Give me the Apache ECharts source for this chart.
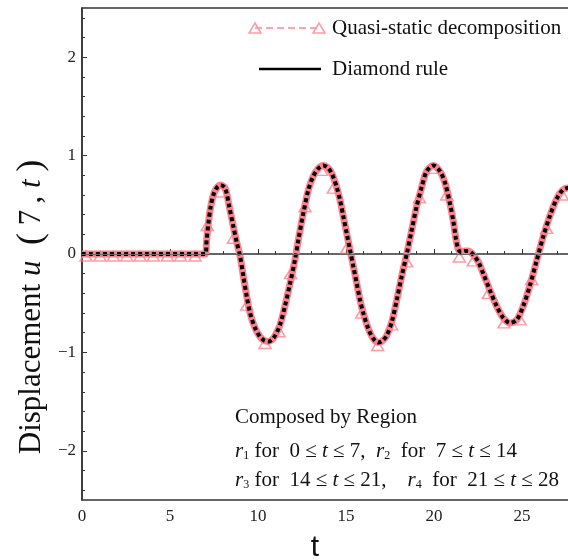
<!DOCTYPE html>
<html>
<head>
<meta charset="utf-8">
<script src="https://cdn.jsdelivr.net/npm/echarts@6/dist/echarts.min.js"></script>
<style>
  html, body { margin: 0; padding: 0; background: #fff; }
  #chart { width: 568px; height: 560px; }
</style>
</head>
<body>
<div id="chart"></div>
<script>
// Diamond rule curve u(7,t)
var tCurve = [0, 3.5, 6.5, 7.0, 7.08, 7.18, 7.31, 7.5, 7.69, 7.88, 8.13, 8.37, 8.6, 8.79, 8.98,
  9.17, 9.36, 9.55, 9.83, 10.11, 10.35, 10.59, 10.8, 10.97, 11.25, 11.53, 11.82, 12.1, 12.29,
  12.57, 12.86, 13.14, 13.43, 13.71, 13.95, 14.19, 14.47, 14.66, 14.85, 15.04, 15.23, 15.42,
  15.61, 15.8, 15.98, 16.27, 16.55, 16.84, 17.08, 17.31, 17.6, 17.88, 18.16, 18.45, 18.73,
  19.01, 19.3, 19.58, 19.96, 20.34, 20.63, 20.91, 21.1, 21.25, 21.38, 21.55, 21.76, 21.95,
  22.14, 22.33, 22.52, 22.8, 23.18, 23.56, 23.94, 24.32, 24.7, 25.07, 25.45, 25.83, 26.21,
  26.59, 26.97, 27.31, 27.6, 28]
var uCurve = [0, 0, 0, 0, 0.14, 0.31, 0.48, 0.62, 0.68, 0.70, 0.67, 0.48, 0.28, 0.12, -0.02,
  -0.23, -0.43, -0.60, -0.75, -0.84, -0.88, -0.89, -0.87, -0.83, -0.72, -0.53, -0.30, -0.06, 0.14,
  0.41, 0.65, 0.79, 0.87, 0.90, 0.88, 0.82, 0.68, 0.55, 0.38, 0.21, 0.04, -0.13,
  -0.30, -0.47, -0.60, -0.76, -0.86, -0.90, -0.88, -0.83, -0.69, -0.47, -0.23, 0.0, 0.24,
  0.48, 0.68, 0.84, 0.90, 0.84, 0.72, 0.51, 0.33, 0.15, 0.05, 0.02, 0.03, 0.03,
  0.01, -0.03, -0.08, -0.20, -0.37, -0.53, -0.65, -0.70, -0.67, -0.53, -0.32, -0.07, 0.18,
  0.39, 0.56, 0.65, 0.67, 0.63]

// quasi-static decomposition samples (triangles)
var tMarks = [0.23, 1.02, 1.78, 2.54, 3.3, 4.05, 4.85, 5.6, 6.42, 7.12, 7.88, 8.6, 9.36, 10.4,
  11.2, 11.85, 12.67, 13.62, 14.28, 15.04, 15.89, 16.8, 17.6, 18.45, 19.17, 19.96, 20.72, 21.44,
  22.23, 23.09, 23.98, 24.89, 25.55, 26.4, 27.3]
var uMarks = [-0.02, -0.02, -0.02, -0.02, -0.02, -0.02, -0.02, -0.02, -0.02, 0.29, 0.63, 0.16,
  -0.52, -0.91, -0.79, -0.20, 0.48, 0.85, 0.67, 0.06, -0.60, -0.93, -0.72, -0.08, 0.57, 0.87,
  0.60, -0.03, -0.07, -0.40, -0.70, -0.67, -0.26, 0.26, 0.60]

var xLabels = [0, 5, 10, 15, 20, 25]
var yLabels = [-2, -1, 0, 1, 2]

var serif = "'Liberation Serif', 'Times New Roman', serif"
var pink = '#ff7f8b'

var curveData = tCurve.map(function (t, i) { return [t, uCurve[i]] })
var markData = tMarks.map(function (t, i) { return [t, uMarks[i]] })

var chart = echarts.init(document.getElementById('chart'))

var subRich = {
  i: { fontFamily: serif, fontSize: 21, fontStyle: 'italic', fill: '#111' },
  s: { fontFamily: serif, fontSize: 12, fill: '#111', padding: [10, 0, 0, 0] }
}

var option = {
  animation: false,
  backgroundColor: '#fff',
  grid: [
    // main plot box, runs past the right edge like the cropped original
    { left: 82, top: 8, width: 528, height: 492, outerBoundsMode: 'none', show: true, borderColor: '#333', borderWidth: 1.5, backgroundColor: 'transparent' },
    // y major ticks
    { left: 82, top: 57.2, width: 528, height: 393.6, outerBoundsMode: 'none' },
    // y minor ticks
    { left: 82, top: 17.84, width: 528, height: 472.32, outerBoundsMode: 'none' }
  ],
  xAxis: [
    {
      gridIndex: 0,
      type: 'value',
      min: 0,
      max: 30,
      interval: 5,
      name: 't',
      nameLocation: 'middle',
      nameGap: 33,
      nameTextStyle: {
        fontFamily: "'Liberation Sans', Arial, sans-serif",
        fontSize: 30,
        color: '#111',
        padding: [0, 62, 0, 0]
      },
      axisLine: { lineStyle: { color: '#333', width: 1.5 } },
      axisTick: { inside: true, length: 5, lineStyle: { color: '#333' } },
      minorTick: { show: true, splitNumber: 5, length: 3, lineStyle: { color: '#333' } },
      splitLine: { show: false },
      axisLabel: {
        margin: 8,
        fontFamily: serif,
        fontSize: 17,
        color: '#222',
        formatter: function (v) {
          return xLabels.indexOf(v) >= 0 ? String(v) : ''
        }
      }
    },
    { gridIndex: 1, type: 'value', min: 0, max: 30, show: false },
    { gridIndex: 2, type: 'value', min: 0, max: 30, show: false }
  ],
  yAxis: [
    {
      gridIndex: 0,
      type: 'value',
      min: -2.5,
      max: 2.5,
      name: 'Displacement {i|u}\u2002{p|(} 7\u2009, {i|t} {p|)}',
      nameLocation: 'middle',
      nameGap: 32,
      nameTextStyle: {
        fontFamily: serif,
        fontSize: 31,
        color: '#111',
        padding: [0, 106, 0, 0],
        rich: {
          i: { fontFamily: serif, fontSize: 31, fontStyle: 'italic', color: '#111' },
          p: { fontFamily: serif, fontSize: 36, color: '#111' }
        }
      },
      axisLine: { lineStyle: { color: '#333', width: 1.5 } },
      axisTick: { show: false },
      axisLabel: { show: false },
      splitLine: { show: false }
    },
    {
      gridIndex: 1,
      type: 'value',
      min: -2,
      max: 2,
      interval: 1,
      axisLine: { show: false },
      axisTick: { inside: true, length: 5, lineStyle: { color: '#333' } },
      splitLine: { show: false },
      axisLabel: {
        margin: 6,
        fontFamily: serif,
        fontSize: 17,
        color: '#222',
        formatter: function (v) {
          return yLabels.indexOf(v) >= 0 ? String(v).replace('-', '\u2212') : ''
        }
      }
    },
    {
      gridIndex: 2,
      type: 'value',
      min: -2.4,
      max: 2.4,
      interval: 0.2,
      axisLine: { show: false },
      axisTick: { inside: true, length: 3, lineStyle: { color: '#333' } },
      axisLabel: { show: false },
      splitLine: { show: false }
    }
  ],
  series: [
    {
      name: 'Quasi-static decomposition',
      type: 'line',
      xAxisIndex: 0,
      yAxisIndex: 0,
      data: curveData,
      smooth: 0.3,
      showSymbol: false,
      lineStyle: { color: pink, width: 7 },
      markLine: {
        silent: true,
        symbol: ['none', 'none'],
        label: { show: false },
        lineStyle: { color: '#666', width: 1, type: 'solid' },
        data: [{ yAxis: 0 }]
      },
      z: 2
    },
    {
      name: 'Quasi-static samples',
      type: 'scatter',
      xAxisIndex: 0,
      yAxisIndex: 0,
      data: markData,
      symbol: 'triangle',
      symbolSize: [12, 10],
      itemStyle: { color: 'rgba(255,255,255,0)', borderColor: pink, borderWidth: 1.5 },
      z: 3
    },
    {
      name: 'Diamond rule',
      type: 'line',
      xAxisIndex: 0,
      yAxisIndex: 0,
      data: curveData,
      smooth: 0.3,
      showSymbol: false,
      lineStyle: { color: '#000', width: 4, type: [4, 3] },
      z: 4
    }
  ],
  graphic: [
    // legend
    { type: 'line', shape: { x1: 255, y1: 28, x2: 319, y2: 28 }, style: { stroke: '#ffa3ad', lineWidth: 2.2, lineDash: [7, 4] } },
    { type: 'polygon', shape: { points: [[249, 33], [261, 33], [255, 23]] }, style: { fill: 'none', stroke: '#ff9aa5', lineWidth: 1.5 } },
    { type: 'polygon', shape: { points: [[313, 33], [325, 33], [319, 23]] }, style: { fill: 'none', stroke: '#ff9aa5', lineWidth: 1.5 } },
    { type: 'text', x: 332, y: 28, style: { text: 'Quasi-static decomposition', font: '21px ' + serif, fill: '#111', verticalAlign: 'middle' } },
    { type: 'line', shape: { x1: 259, y1: 69, x2: 321, y2: 69 }, style: { stroke: '#000', lineWidth: 2.5 } },
    { type: 'text', x: 332, y: 69, style: { text: 'Diamond rule', font: '21px ' + serif, fill: '#111', verticalAlign: 'middle' } },
    // annotation
    { type: 'text', x: 235, y: 417, style: { text: 'Composed by Region', font: '21px ' + serif, fill: '#111', verticalAlign: 'middle' } },
    {
      type: 'text', x: 235, y: 451,
      style: {
        text: '{i|r}{s|1} for  0 \u2264 {i|t} \u2264 7,  {i|r}{s|2}  for  7 \u2264 {i|t} \u2264 14',
        font: '21px ' + serif, fill: '#111', verticalAlign: 'middle', rich: subRich
      }
    },
    {
      type: 'text', x: 235, y: 480,
      style: {
        text: '{i|r}{s|3} for  14 \u2264 {i|t} \u2264 21,    {i|r}{s|4}  for  21 \u2264 {i|t} \u2264 28',
        font: '21px ' + serif, fill: '#111', verticalAlign: 'middle', rich: subRich
      }
    }
  ]
}

chart.setOption(option)
</script>
</body>
</html>
